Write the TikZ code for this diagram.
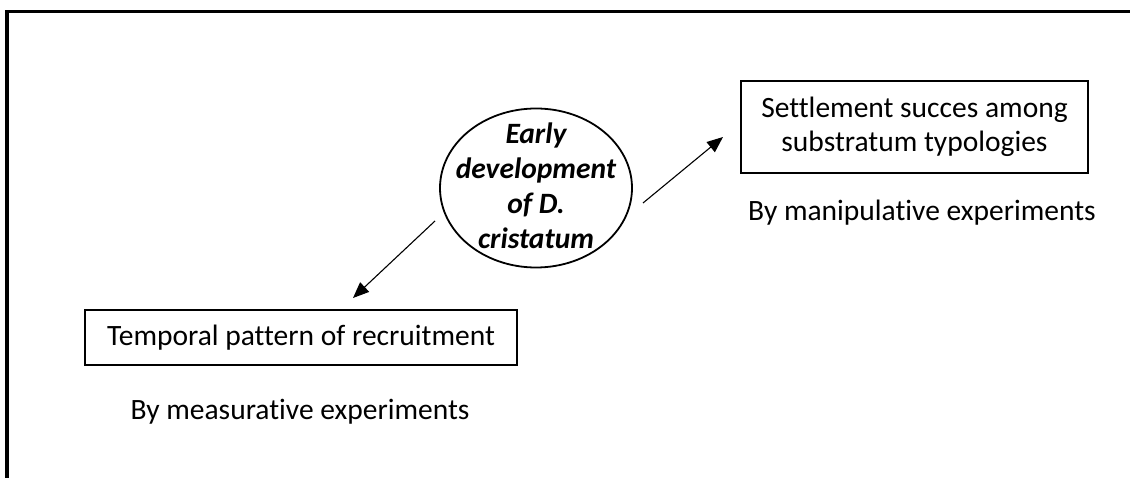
\documentclass[tikz,border=0pt]{standalone}
\usepackage{fontspec}
\setmainfont{Carlito}[Ligatures=NoCommon]
\usetikzlibrary{arrows.meta,shapes.geometric}
\begin{document}
\begin{tikzpicture}[x=1pt,y=-1pt,
  boxnode/.style={draw,line width=1.5pt,inner sep=0pt,align=center,font=\fontsize{29.5}{34}\selectfont},
  plaintext/.style={inner sep=0pt,font=\fontsize{29.5}{33}\selectfont},
  conn/.style={line width=1.1pt,-{Triangle[length=16pt,width=13pt]}}]
\useasboundingbox (0,0) rectangle (1130,478);
\draw[line width=3.5pt] (7,478) -- (7,11.5) -- (1130,11.5);
\node[ellipse,draw,line width=1.8pt,minimum width=192pt,minimum height=159pt,inner sep=0pt,
  label={[align=center,inner sep=0pt,yshift=2pt,font=\fontsize{29.5}{35}\selectfont\bfseries\itshape]center:Early\\development\\of D.\\cristatum}] (e) at (536,188) {};
\node[boxnode,minimum width=347pt,minimum height=92pt] (rbox) at (914.5,127) {Settlement succes among\\substratum typologies};
\node[boxnode,minimum width=432pt,minimum height=55pt] (lbox) at (301,337.5) {Temporal pattern of recruitment};
\node[plaintext] (rlab) at (922,213) {By manipulative experiments};
\node[plaintext] (llab) at (300,412) {By measurative experiments};
\coordinate (a1s) at (643,203);
\coordinate (a1e) at (723,137);
\coordinate (a2s) at (435,221);
\coordinate (a2e) at (353,298);
\draw[conn] (a1s) -- (a1e);
\draw[conn] (a2s) -- (a2e);
\end{tikzpicture}
\end{document}
